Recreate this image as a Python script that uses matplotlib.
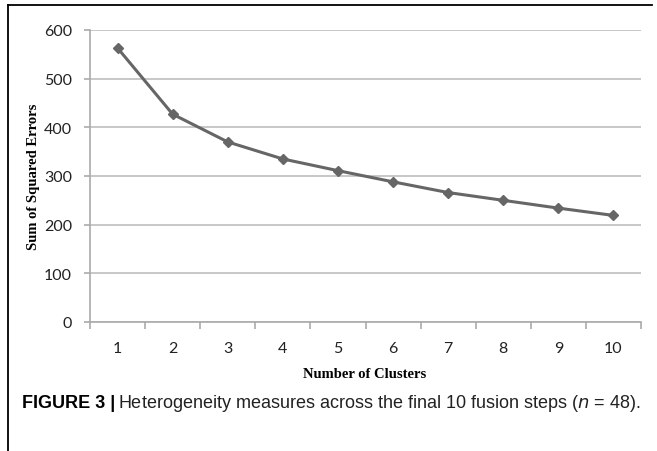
import numpy as np
import matplotlib.pyplot as plt
from matplotlib.lines import Line2D

# data
clusters = [1, 2, 3, 4, 5, 6, 7, 8, 9, 10]
sse = [563, 427, 370, 335, 311, 288, 266, 250, 234, 219]
yticks = [0, 100, 200, 300, 400, 500, 600]

fig = plt.figure(figsize=(6.57, 4.52), dpi=100)
ax = fig.add_axes([90/657, 1 - 323/452, 551/657, 292/452])

x = np.arange(len(clusters))
ax.plot(x, sse, color='#666666', lw=2.2, marker='D', ms=5, mfc='#666666', mec='#666666')

ax.set_xlim(-0.5, len(clusters) - 0.5)
ax.set_ylim(0, 600)
ax.set_yticks(yticks)
ax.yaxis.grid(True, color='#bdbdbd', lw=1.2)
ax.set_axisbelow(True)

# category labels centred, tick marks between categories
ax.set_xticks(np.arange(-0.5, len(clusters), 1.0))
ax.set_xticklabels([])
ax.set_xticks(x, minor=True)
ax.set_xticklabels([str(c) for c in clusters], minor=True, fontfamily='Lato', fontsize=11.5, color='#222222')
ax.tick_params(axis='x', which='major', direction='out', length=5, color='#aaaaaa', width=1.2)
ax.tick_params(axis='x', which='minor', length=0, pad=14)
ax.tick_params(axis='y', length=4, color='#aaaaaa', width=1.2, pad=9, labelsize=11.5, labelcolor='#222222')
for lab in ax.get_yticklabels():
    lab.set_fontfamily('Lato')

for s in ['top', 'right']:
    ax.spines[s].set_visible(False)
for s in ['left', 'bottom']:
    ax.spines[s].set_color('#aaaaaa')
    ax.spines[s].set_linewidth(1.2)

fig.text(365/657, 1 - 375/452, 'Number of Clusters', fontfamily='Liberation Serif', fontweight='bold',
         fontsize=10.5, ha='center', va='center')
fig.text(34/657, 1 - 177/452, 'Sum of Squared Errors', fontfamily='Liberation Serif', fontweight='bold',
         fontsize=10.5, ha='center', va='center', rotation=90)

# frame lines (top and left)
fig.add_artist(Line2D([8/657, 652/657], [1 - 6/452, 1 - 6/452], color='black', lw=1.3))
fig.add_artist(Line2D([8/657, 8/657], [0, 1 - 6/452], color='black', lw=1.3))

# caption
t1 = fig.text(22/657, 1 - 404/452, 'FIGURE 3 |', fontfamily='Liberation Sans', fontweight='bold',
              fontsize=13, va='center', ha='left')
fig.canvas.draw()
bb = t1.get_window_extent()
x0 = bb.x1 / fig.bbox.width + 3/657
fig.text(x0, 1 - 404/452, 'Heterogeneity measures across the final 10 fusion steps ($\\it{n}$ = 48).',
         fontfamily='Liberation Sans', fontsize=13, va='center', ha='left', color='#222222')

fig.savefig('out.png', dpi=100)
